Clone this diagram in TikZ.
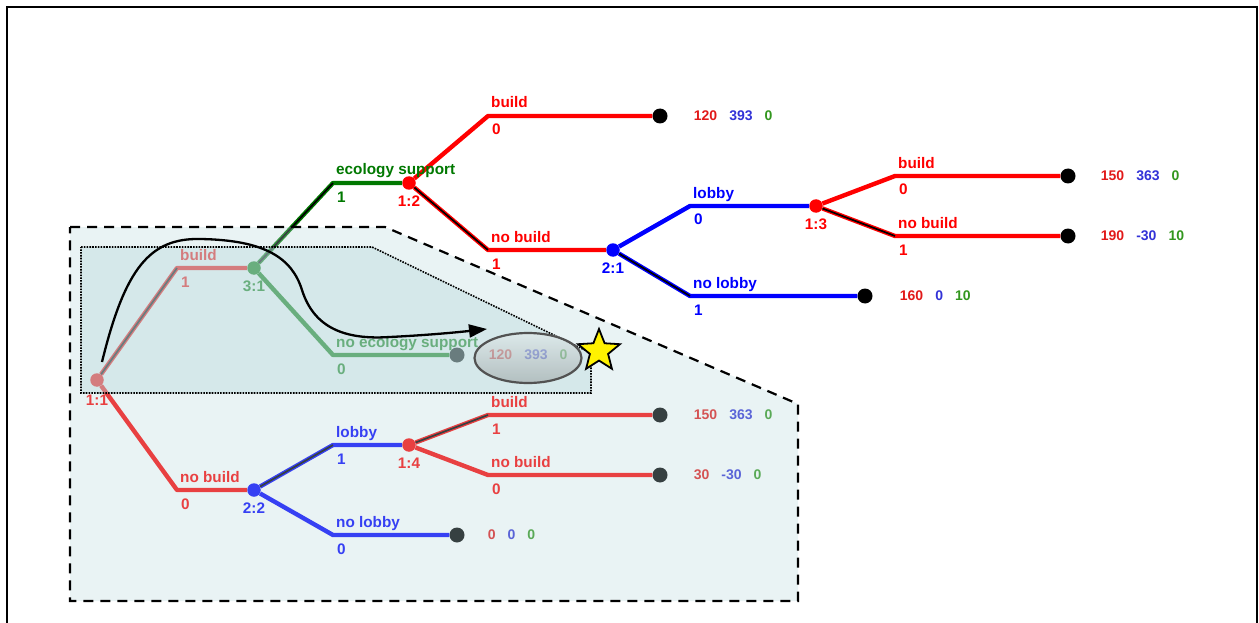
\documentclass[tikz,border=0pt]{standalone}
\usepackage{xcolor}
\usepackage{fontspec}
\setmainfont{Liberation Sans}
\usetikzlibrary{positioning,shapes.geometric,arrows.meta}

\definecolor{pone}{RGB}{255,0,0}
\definecolor{ptwo}{RGB}{0,0,255}
\definecolor{pthree}{RGB}{0,120,0}
\definecolor{payr}{RGB}{225,25,25}
\definecolor{payb}{RGB}{50,50,215}
\definecolor{payg}{RGB}{50,150,30}
\definecolor{shade}{RGB}{182,215,218}

\newcommand{\gtfont}{\fontsize{15.3}{18}\selectfont\bfseries}
\newcommand{\payfont}{\fontsize{14}{16}\selectfont\bfseries}
\newcommand{\payvec}[3]{\textcolor{payr}{#1}\hspace{12pt}\textcolor{payb}{#2}\hspace{12pt}\textcolor{payg}{#3}}

\begin{document}
\begin{tikzpicture}[x=1pt,y=-1pt,
    dec/.style={circle,fill=#1,inner sep=0pt,minimum size=13.5pt},
    term/.style={circle,fill=black,inner sep=0pt,minimum size=15pt},
    move/.style={draw=#1,line width=4.4pt,line join=round},
    eq/.style={draw=black,line width=1.7pt},
    lab/.style={text=#1,font=\gtfont,anchor=base west,inner sep=0pt,xshift=3pt,yshift=8pt},
    prob/.style={text=#1,font=\gtfont,anchor=base west,inner sep=0pt,xshift=4pt,yshift=-19pt},
    nlab/.style={text=#1,font=\gtfont,inner sep=0pt},
    pay/.style={font=\payfont,inner sep=0pt}]

          \useasboundingbox (0,0) rectangle (1259,623);
          \draw[line width=2.5pt] (7,623) -- (7,7) -- (1257,7) -- (1257,623);

          \node[dec=pone] (n11) at (97,380) {};
          \node[dec=pthree] (n31) at (254,268) {};
          \node[dec=pone] (n12) at (409,183) {};
          \node[dec=ptwo] (n21) at (613,250) {};
          \node[dec=pone] (n13) at (816,206) {};
          \node[dec=ptwo] (n22) at (254,490) {};
          \node[dec=pone] (n14) at (409,445) {};

          \node[nlab=pone, below=8pt of n11] (l11) {1:1};
          \node[nlab=pthree, below=6pt of n31] (l31) {3:1};
          \node[nlab=pone, below=6pt of n12] (l12) {1:2};
          \node[nlab=ptwo, below=6pt of n21] (l21) {2:1};
          \node[nlab=pone, below=6pt of n13] (l13) {1:3};
          \node[nlab=ptwo, below=6pt of n22] (l22) {2:2};
          \node[nlab=pone, below=6pt of n14] (l14) {1:4};

          \coordinate (c1) at (177,268);
          \coordinate (c2) at (177,490);
          \coordinate (c3) at (333,183);
          \coordinate (c4) at (333,355);
          \coordinate (c5) at (488,116);
          \coordinate (c6) at (488,250);
          \coordinate (c7) at (690,206);
          \coordinate (c8) at (690,296);
          \coordinate (c9) at (895,176);
          \coordinate (c10) at (895,236);
          \coordinate (c11) at (333,445);
          \coordinate (c12) at (333,535);
          \coordinate (c13) at (488,415);
          \coordinate (c14) at (488,475);

          \node[term] (t1) at (660,116) {};
          \node[term] (t2) at (1068,176) {};
          \node[term] (t3) at (1068,236) {};
          \node[term] (t4) at (865,296) {};
          \node[term] (t5) at (457,355) {};
          \node[term] (t6) at (660,415) {};
          \node[term] (t7) at (660,475) {};
          \node[term] (t8) at (457,535) {};

          \draw[move=pone] (n11) -- (c1) -- (n31);
          \draw[move=pone] (n11) -- (c2) -- (n22);
          \draw[move=pthree] (n31) -- (c3) -- (n12);
          \draw[move=pthree] (n31) -- (c4) -- (t5);
          \draw[move=pone] (n12) -- (c5) -- (t1);
          \draw[move=pone] (n12) -- (c6) -- (n21);
          \draw[move=ptwo] (n21) -- (c7) -- (n13);
          \draw[move=ptwo] (n21) -- (c8) -- (t4);
          \draw[move=pone] (n13) -- (c9) -- (t2);
          \draw[move=pone] (n13) -- (c10) -- (t3);
          \draw[move=ptwo] (n22) -- (c11) -- (n14);
          \draw[move=ptwo] (n22) -- (c12) -- (t8);
          \draw[move=pone] (n14) -- (c13) -- (t6);
          \draw[move=pone] (n14) -- (c14) -- (t7);

          \draw[eq] (n11) -- (c1);
          \draw[eq] (n31) -- (c3);
          \draw[eq] (n12) -- (c6);
          \draw[eq] (n21) -- (c8);
          \draw[eq] (n13) -- (c10);
          \draw[eq] (n22) -- (c11);
          \draw[eq] (n14) -- (c13);

          \node[lab=pone] (a1) at (c1) {build};
          \node[prob=pone] (b1) at (c1) {1};
          \node[lab=pone] (a2) at (c2) {no build};
          \node[prob=pone] (b2) at (c2) {0};
          \node[lab=pthree] (a3) at (c3) {ecology support};
          \node[prob=pthree] (b3) at (c3) {1};
          \node[lab=pthree] (a4) at (c4) {no ecology support};
          \node[prob=pthree] (b4) at (c4) {0};
          \node[lab=pone] (a5) at (c5) {build};
          \node[prob=pone] (b5) at (c5) {0};
          \node[lab=pone] (a6) at (c6) {no build};
          \node[prob=pone] (b6) at (c6) {1};
          \node[lab=ptwo] (a7) at (c7) {lobby};
          \node[prob=ptwo] (b7) at (c7) {0};
          \node[lab=ptwo] (a8) at (c8) {no lobby};
          \node[prob=ptwo] (b8) at (c8) {1};
          \node[lab=pone] (a9) at (c9) {build};
          \node[prob=pone] (b9) at (c9) {0};
          \node[lab=pone] (a10) at (c10) {no build};
          \node[prob=pone] (b10) at (c10) {1};
          \node[lab=ptwo] (a11) at (c11) {lobby};
          \node[prob=ptwo] (b11) at (c11) {1};
          \node[lab=ptwo] (a12) at (c12) {no lobby};
          \node[prob=ptwo] (b12) at (c12) {0};
          \node[lab=pone] (a13) at (c13) {build};
          \node[prob=pone] (b13) at (c13) {1};
          \node[lab=pone] (a14) at (c14) {no build};
          \node[prob=pone] (b14) at (c14) {0};

          \node[pay, right=26pt of t1] (u1) {\payvec{120}{393}{0}};
          \node[pay, right=25pt of t2] (u2) {\payvec{150}{363}{0}};
          \node[pay, right=25pt of t3] (u3) {\payvec{190}{-30}{10}};
          \node[pay, right=27pt of t4] (u4) {\payvec{160}{0}{10}};
          \node[pay, right=24pt of t5] (u5) {\payvec{120}{393}{0}};
          \node[pay, right=26pt of t6] (u6) {\payvec{150}{363}{0}};
          \node[pay, right=26pt of t7] (u7) {\payvec{30}{-30}{0}};
          \node[pay, right=23pt of t8] (u8) {\payvec{0}{0}{0}};

          \draw[line width=2.2pt, dash pattern=on 10pt off 7pt, fill=shade, fill opacity=0.3]
            (70,227) -- (385,227) -- (798,404) -- (798,601) -- (70,601) -- cycle;
          \draw[line width=1.6pt, dash pattern=on 1.6pt off 1.2pt, fill=shade, fill opacity=0.4]
            (81,247) -- (372,247) -- (591,353) -- (591,393) -- (81,393) -- cycle;

          \node[ellipse, draw=black!68, line width=2.2pt, minimum width=107pt, minimum height=50pt,
            top color=black!8, bottom color=black!55, fill opacity=0.35] (best) at (528,358) {};

          \coordinate (s) at (102,362);
          \coordinate (e) at (487,329);
          \draw[line width=2.3pt, -{Triangle[length=18pt,width=13pt]}]
            (s) .. controls (125,268) and (150,238) .. (200,239)
                .. controls (265,240) and (292,258) .. (302,290)
                .. controls (314,328) and (345,340) .. (390,337)
                .. controls (430,335) and (460,332) .. (e);

          \node[star, star points=5, star point ratio=2.3, minimum size=44pt, inner sep=0pt,
            fill=yellow, draw=black, line width=1.8pt] (mark) at (599,351) {};

          \end{tikzpicture}
\end{document}
